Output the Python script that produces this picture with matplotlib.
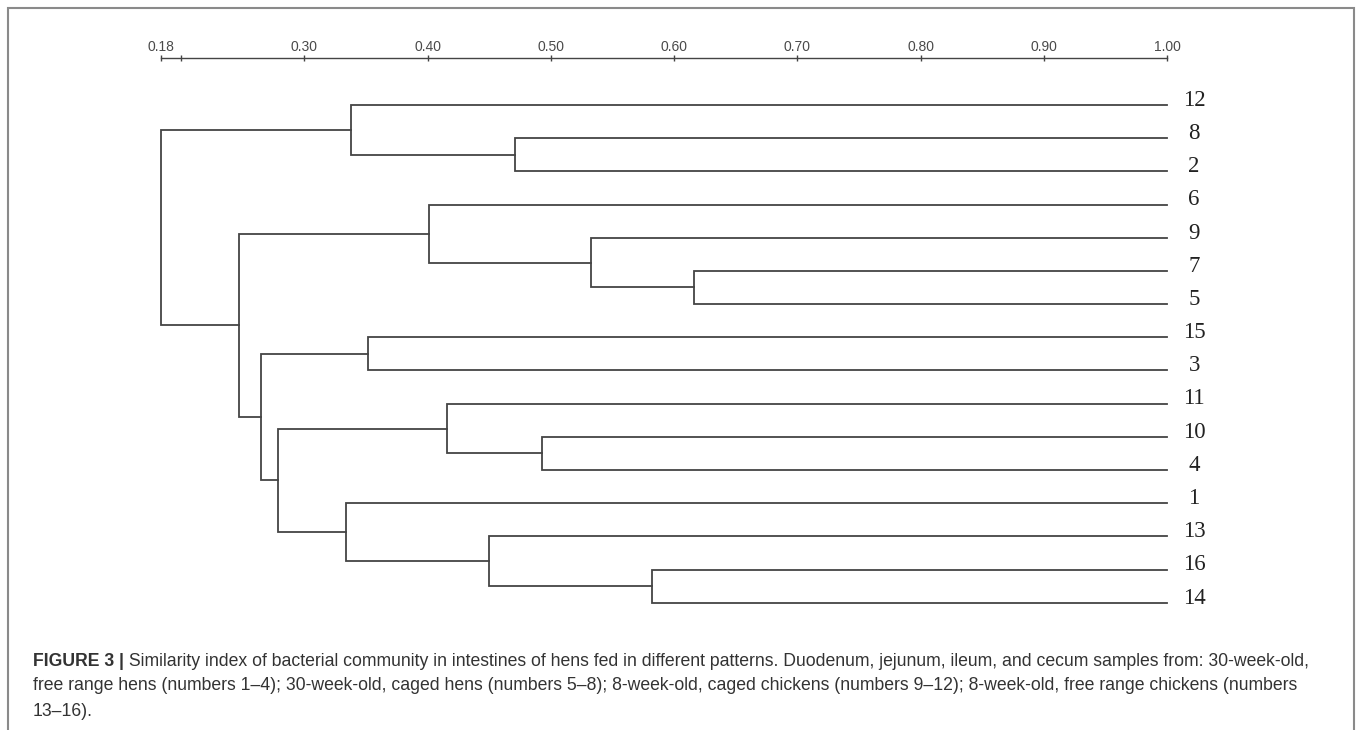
import matplotlib
matplotlib.use("Agg")
from matplotlib import pyplot as plt
from matplotlib.patches import Rectangle

# leaf order, top to bottom
leaves = ["12", "8", "2", "6", "9", "7", "5", "15", "3",
          "11", "10", "4", "1", "13", "16", "14"]

# merges: (child a, child b, similarity) ; "mN" = result of merge N
merges = [
    ("7", "5", 0.616),      # m0
    ("9", "m0", 0.533),     # m1
    ("6", "m1", 0.401),     # m2
    ("8", "2", 0.471),      # m3
    ("12", "m3", 0.338),    # m4
    ("15", "3", 0.352),     # m5
    ("10", "4", 0.493),     # m6
    ("11", "m6", 0.416),    # m7
    ("16", "14", 0.582),    # m8
    ("13", "m8", 0.450),    # m9
    ("1", "m9", 0.334),     # m10
    ("m7", "m10", 0.279),   # m11
    ("m5", "m11", 0.265),   # m12
    ("m2", "m12", 0.247),   # m13
    ("m4", "m13", 0.1835),  # m14
]

tick_vals = [0.1835, 0.20, 0.30, 0.40, 0.50, 0.60, 0.70, 0.80, 0.90, 1.00]
tick_labels = ["0.18", "", "0.30", "0.40", "0.50", "0.60", "0.70", "0.80", "0.90", "1.00"]

caption_bold = "FIGURE 3 |"
caption_1 = (" Similarity index of bacterial community in intestines of hens fed in different "
             "patterns. Duodenum, jejunum, ileum, and cecum samples from: 30-week-old,")
caption_2 = ("free range hens (numbers 1\u20134); 30-week-old, caged hens (numbers 5\u20138); "
             "8-week-old, caged chickens (numbers 9\u201312); 8-week-old, free range chickens (numbers")
caption_3 = "13\u201316)."

W, H = 1358, 730
fig = plt.figure(figsize=(W / 100, H / 100), dpi=100)

# axes placed so that x=0.1835 -> px 160.7, x=1.0 -> px 1167 ; leaf 0 -> py 105, leaf 15 -> py 602.7
x0, x1 = 160.7, 1167.0
y0, y1 = 105.0, 602.7
ax = fig.add_axes([x0 / W, 1 - y1 / H, (x1 - x0) / W, (y1 - y0) / H])
ax.set_xlim(tick_vals[0], 1.0)
ax.set_ylim(len(leaves) - 1, 0)

lc = "#444444"
lw = 1.3

pos = {}   # name -> (x, y)
for i, name in enumerate(leaves):
    pos[name] = (1.0, i)

for k, (a, b, h) in enumerate(merges):
    xa, ya = pos[a]
    xb, yb = pos[b]
    ax.plot([xa, h, h, xb], [ya, ya, yb, yb], color=lc, lw=lw,
            solid_joinstyle="miter", clip_on=False)
    pos["m%d" % k] = (h, (ya + yb) / 2)

for i, name in enumerate(leaves):
    ax.text(1.022, i - 0.14, name, ha="center", va="center",
            fontsize=16.5, family=["Liberation Serif", "DejaVu Serif"], color="#222222")

# scale bar on top
for s in ["left", "right", "bottom"]:
    ax.spines[s].set_visible(False)
ax.spines["top"].set_position(("outward", 33.8))
ax.spines["top"].set_color("#444444")
ax.spines["top"].set_linewidth(1.0)
ax.xaxis.tick_top()
ax.set_xticks(tick_vals)
ax.set_xticklabels(tick_labels)
ax.tick_params(axis="x", direction="inout", length=4, width=1.0, color="#444444",
               labelsize=10, labelcolor="#4a4a4a", pad=1)
for t in ax.get_xticklabels():
    t.set_family(["Liberation Sans", "DejaVu Sans"])
ax.set_yticks([])

# border around the figure
fig.patches.append(Rectangle((8 / W, -0.05), (1354 - 8) / W, 1.05 - 8 / H,
                             transform=fig.transFigure, fill=False,
                             edgecolor="#8a8a8a", lw=1.5))

# caption
cap_font = ["Liberation Sans", "DejaVu Sans"]
cap_size = 12.7
cap_col = "#333333"
cx = 33 / W
tb = fig.text(cx, 1 - 661 / H, caption_bold, fontsize=cap_size, fontweight="bold",
              family=cap_font, color=cap_col, va="center")
fig.canvas.draw()
bb = tb.get_window_extent(fig.canvas.get_renderer())
fig.text(bb.x1 / W, 1 - 661 / H, caption_1, fontsize=cap_size, family=cap_font,
         color=cap_col, va="center")
fig.text(cx, 1 - 686 / H, caption_2, fontsize=cap_size, family=cap_font,
         color=cap_col, va="center")
fig.text(cx, 1 - 711 / H, caption_3, fontsize=cap_size, family=cap_font,
         color=cap_col, va="center")

fig.savefig("out.png", dpi=100, facecolor="white")
plt.close("all")
